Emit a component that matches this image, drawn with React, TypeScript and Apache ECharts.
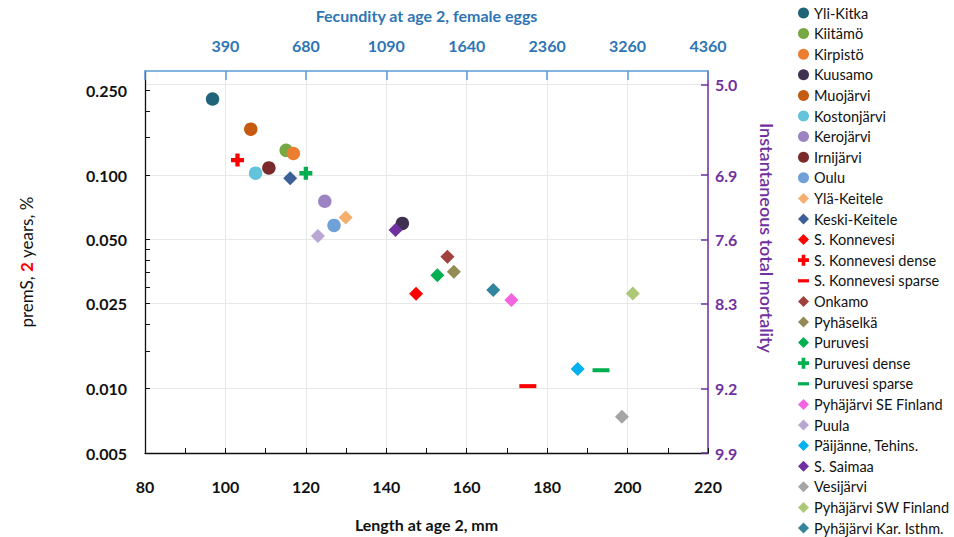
import React, { useEffect, useRef } from "react";
import * as echarts from "echarts";

// ---- data ----
const sites = [
  "Yli-Kitka", "Kiitämö", "Kirpistö", "Kuusamo", "Muojärvi", "Kostonjärvi", "Kerojärvi",
  "Irnijärvi", "Oulu", "Ylä-Keitele", "Keski-Keitele", "S. Konnevesi", "S. Konnevesi dense",
  "S. Konnevesi sparse", "Onkamo", "Pyhäselkä", "Puruvesi", "Puruvesi dense", "Puruvesi sparse",
  "Pyhäjärvi SE Finland", "Puula", "Päijänne, Tehins.", "S. Saimaa", "Vesijärvi",
  "Pyhäjärvi SW Finland", "Pyhäjärvi Kar. Isthm.",
];
const lengthMm = [
  96.8, 115.1, 116.9, 144.0, 106.3, 107.5, 124.7,
  110.8, 127.0, 129.9, 116.1, 147.4, 103.0,
  175.2, 155.2, 156.8, 152.7, 120.0, 193.4,
  171.1, 123.0, 187.6, 142.3, 198.6,
  201.3, 166.6,
];
const premS = [
  0.227, 0.1306, 0.1262, 0.0594, 0.164, 0.1021, 0.0754,
  0.108, 0.0581, 0.0633, 0.0966, 0.0278, 0.1175,
  0.01028, 0.0415, 0.0353, 0.034, 0.102, 0.0122,
  0.026, 0.0518, 0.01235, 0.0553, 0.00739,
  0.0279, 0.029,
];

const lengthTicksMin = 80;
const lengthTicksMax = 220;
const fecundityTickLengths = [100, 120, 140, 160, 180, 200, 220];
const fecundityLabels = ["390", "680", "1090", "1640", "2360", "3260", "4360"];

const premSMin = 0.005;
const premSMax = 0.307;
const premSLabelValues = [0.25, 0.1, 0.05, 0.025, 0.01, 0.005];
const premSLabelTexts = ["0.250", "0.100", "0.050", "0.025", "0.010", "0.005"];
const premSTickValues = [0.25, 0.2, 0.15, 0.1, 0.05, 0.045, 0.04, 0.035, 0.03, 0.025, 0.02, 0.015, 0.01, 0.005];
const mortalityPositions = [0.266, 0.1, 0.05, 0.025, 0.01, 0.005];
const mortalityLabels = ["5.0", "6.9", "7.6", "8.3", "9.2", "9.9"];

// ---- styles ----
const markerColors = [
  "#1F6479", "#76A844", "#ED7D31", "#403152", "#C55A11", "#62C3DB", "#9C84C4",
  "#7A2A2A", "#6FA0D8", "#F6AE6D", "#3A5F99", "#FF0000", "#FF0000",
  "#FF0000", "#A0413E", "#948A54", "#00B050", "#00B050", "#00B050",
  "#F464E0", "#B9A6D4", "#00B0F0", "#7030A0", "#A5A5A5",
  "#ADC877", "#31859C",
];
const CROSS = "path://M4,0H8V4H12V8H8V12H4V8H0V4H4Z";
const DASH = "path://M0,0H12V3.5H0Z";
const markerShapes = [
  "circle", "circle", "circle", "circle", "circle", "circle", "circle",
  "circle", "circle", "diamond", "diamond", "diamond", "cross",
  "dash", "diamond", "diamond", "diamond", "cross", "dash",
  "diamond", "diamond", "diamond", "diamond", "diamond",
  "diamond", "diamond",
];

const FONT = "Lato, 'Open Sans', sans-serif";
const BLUE = "#2E75B6";
const PURPLE = "#7030A0";

function lookup(v: number, keys: number[], texts: string[]) {
  let best = 0;
  let bd = Infinity;
  keys.forEach((k, i) => {
    const d = Math.abs(Math.log10(k) - v);
    if (d < bd) { bd = d; best = i; }
  });
  return bd < 1e-4 ? texts[best] : "";
}

export default function App() {
  const ref = useRef<HTMLDivElement>(null);
  useEffect(() => {
    if (!ref.current) return;
    const chart = echarts.init(ref.current, undefined, { renderer: "svg" });

    const series = sites.map((name, i) => {
      const shape = markerShapes[i];
      let symbol: string = shape;
      let symbolSize: any = 13.5;
      if (shape === "cross") { symbol = CROSS; symbolSize = 13; }
      else if (shape === "dash") { symbol = "rect"; symbolSize = [17, 4]; }
      else if (shape === "diamond") { symbolSize = 14; }
      return {
        name,
        type: "scatter",
        xAxisIndex: 0,
        yAxisIndex: 0,
        symbol,
        symbolSize,
        itemStyle: { color: markerColors[i], opacity: 1 },
        data: [[lengthMm[i], premS[i]]],
        z: 3,
      };
    });

    const legendData = sites.map((name, i) => {
      const shape = markerShapes[i];
      let icon = shape;
      if (shape === "cross") icon = CROSS;
      if (shape === "dash") icon = DASH;
      return { name, icon };
    });

    chart.setOption({
      animation: false,
      textStyle: { fontFamily: FONT },
      grid: { left: 145, right: 246, top: 71, bottom: 76, containLabel: false },
      legend: {
        orient: "vertical",
        left: 793,
        top: 0.5,
        height: 700,
        itemWidth: 11,
        itemHeight: 11,
        itemGap: 5.6,
        textStyle: { fontFamily: FONT, fontSize: 14.5, color: "#111", lineHeight: 14.8 },
        data: legendData,
      },
      xAxis: [
        {
          type: "value",
          position: "bottom",
          min: lengthTicksMin,
          max: lengthTicksMax,
          interval: 20,
          name: "Length at age 2, mm",
          nameLocation: "middle",
          nameGap: 63,
          nameTextStyle: { fontFamily: FONT, fontSize: 16, fontWeight: "bold", color: "#111" },
          axisLine: { show: true, lineStyle: { color: "#111", width: 1.3 } },
          axisTick: { show: true, inside: true, length: 5, lineStyle: { color: "#111" } },
          minorTick: { show: true, splitNumber: 2, length: 5, lineStyle: { color: "#111" } },
          axisLabel: { fontFamily: FONT, fontSize: 16, fontWeight: "bold", color: "#111", margin: 25 },
          splitLine: { show: true, lineStyle: { color: "#E8E8E8", width: 1 } },
        },
        {
          type: "value",
          position: "top",
          min: lengthTicksMin,
          max: lengthTicksMax,
          interval: 20,
          name: "Fecundity at age 2, female eggs",
          nameLocation: "middle",
          nameGap: 48,
          nameTextStyle: { fontFamily: FONT, fontSize: 16, fontWeight: "bold", color: BLUE },
          axisLine: { show: true, lineStyle: { color: "#5B9BD5", width: 1.5 } },
          axisTick: { show: true, inside: true, length: 9, lineStyle: { color: "#5B9BD5", width: 1.5 } },
          axisLabel: {
            fontFamily: FONT, fontSize: 16, fontWeight: "bold", color: BLUE, margin: 18,
            formatter: (v: number) => {
              const idx = fecundityTickLengths.indexOf(Math.round(v));
              return idx >= 0 ? fecundityLabels[idx] : "";
            },
          },
          splitLine: { show: false },
        },
      ],
      yAxis: [
        {
          type: "log",
          min: premSMin,
          max: premSMax,
          show: false,
          splitLine: { show: false },
        },
        {
          type: "value",
          position: "left",
          min: Math.log10(premSMin),
          max: Math.log10(premSMax),
          name: "{a|premS, }{b|2}{a| years, %}",
          nameLocation: "middle",
          nameRotate: 90,
          nameGap: 110,
          nameTextStyle: {
            rich: {
              a: { fontFamily: FONT, fontSize: 17, color: "#111" },
              b: { fontFamily: FONT, fontSize: 17, color: "#FF0000", fontWeight: "bold" },
            },
          },
          axisLine: { show: true, lineStyle: { color: "#111", width: 1.3 } },
          axisTick: {
            show: true, inside: true, length: 5, lineStyle: { color: "#111" },
            customValues: premSTickValues.map((v) => Math.log10(v)),
          },
          axisLabel: {
            fontFamily: FONT, fontSize: 16, fontWeight: "bold", color: "#111", margin: 18,
            customValues: premSLabelValues.map((v) => Math.log10(v)),
            formatter: (v: number) => lookup(v, premSLabelValues, premSLabelTexts),
          },
          splitLine: { show: false },
        },
        {
          type: "value",
          position: "right",
          min: Math.log10(premSMin),
          max: Math.log10(premSMax),
          name: "Instantaneous total mortality",
          nameLocation: "middle",
          nameRotate: -90,
          nameGap: 50,
          nameTextStyle: { fontFamily: FONT, fontSize: 18, color: PURPLE, fontWeight: 600, padding: [0, 48, 0, 0] },
          axisLine: { show: true, lineStyle: { color: PURPLE, width: 1.5 } },
          axisTick: {
            show: true, inside: true, length: 7, lineStyle: { color: PURPLE, width: 1.5 },
            customValues: mortalityPositions.map((v) => Math.log10(v)),
          },
          axisLabel: {
            fontFamily: FONT, fontSize: 16, fontWeight: "bold", color: PURPLE, margin: 7,
            customValues: mortalityPositions.map((v) => Math.log10(v)),
            formatter: (v: number) => lookup(v, mortalityPositions, mortalityLabels),
          },
          splitLine: { show: true, lineStyle: { color: "#E8E8E8", width: 1 } },
        },
      ],
      series,
    });
    return () => chart.dispose();
  }, []);
  return <div ref={ref} style={{ width: 954, height: 537, position: "absolute", left: 0, top: 0 }} />;
}
